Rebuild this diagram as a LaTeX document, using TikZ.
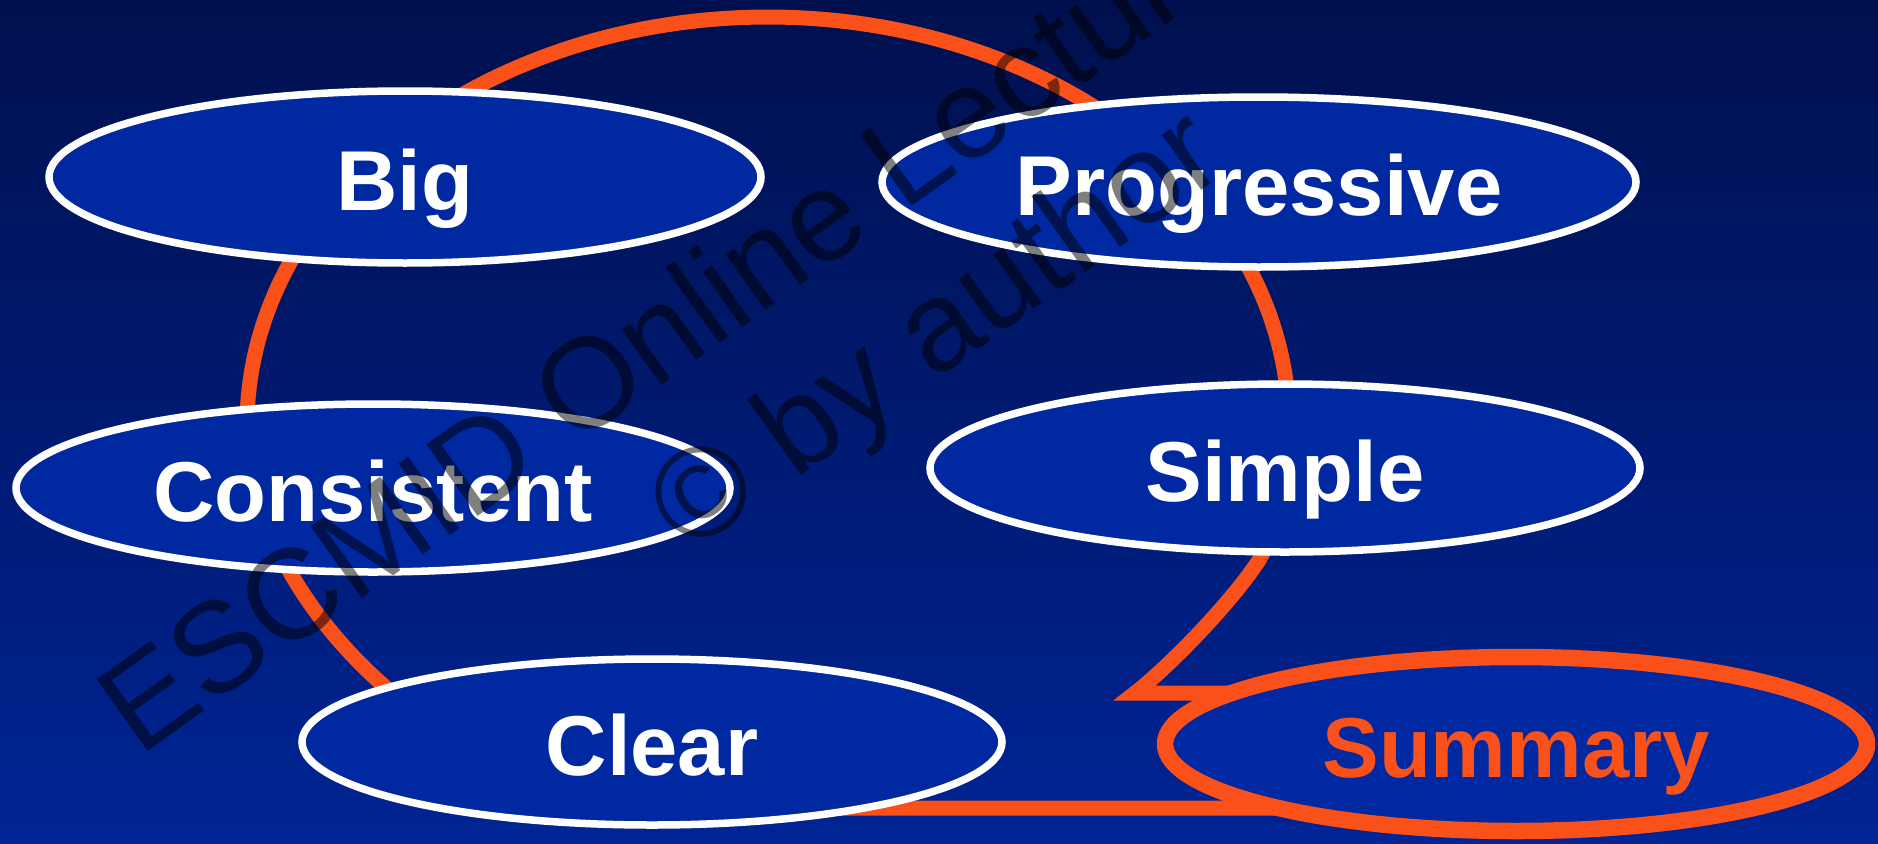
\documentclass[tikz,border=0pt]{standalone}
\usepackage{fontspec}
\setmainfont{Liberation Sans}
\usetikzlibrary{shapes.geometric}
\definecolor{bgtop}{RGB}{0,16,78}
\definecolor{bgbot}{RGB}{0,36,148}
\definecolor{ovalfill}{RGB}{0,40,160}
\definecolor{orng}{RGB}{250,80,25}
\begin{document}
\begin{tikzpicture}[x=1pt,y=-1pt,
  oval/.style={ellipse, draw=white, line width=7.5pt, fill=ovalfill, inner sep=0pt,
    text=white, font=\fontsize{85}{100}\selectfont\bfseries, text height=67pt, text depth=0pt},
  sumoval/.style={oval, draw=orng, line width=16.5pt, text=orng},
  bubble/.style={draw=orng, line width=15pt, line join=miter},
  wm/.style={font=\fontsize{128}{150}\selectfont, text=black, text opacity=0.5,
    rotate=35.5, anchor=base, inner sep=0pt}]
\useasboundingbox (0,0) rectangle (1878,843);
\clip (0,0) rectangle (1878,843);
\fill[top color=bgtop, bottom color=bgbot] (0,0) rectangle (1878,843);
% orange callout outline
\draw[bubble] (1320,693) -- (1135,693)
  .. controls (1165,670) and (1232,603) .. (1261,557)
  -- plot[domain=18.9:-180,samples=150] ({768+521*cos(\x)},{425+408*sin(\x)})
  .. controls (247,600) and (450,808) .. (700,808) -- (1320,808) -- cycle;
% ovals
\node[oval, minimum width=712pt, minimum height=172pt] (big) at (405,177) {Big};
\node[oval, minimum width=754pt, minimum height=170pt] (prog) at (1259,182) {Progressive};
\node[oval, minimum width=714pt, minimum height=168pt] (cons) at (373,488) {Consistent};
\node[oval, minimum width=710pt, minimum height=168pt] (simp) at (1285,468) {Simple};
\node[oval, minimum width=700pt, minimum height=166pt] (clear) at (652,742) {Clear};
\node[sumoval, minimum width=702pt, minimum height=174pt] (summ) at (1516,744) {Summary};
% watermark
\node[wm] (wm1) at (869,237) {ESCMID Online Lecture Library};
\node[wm] (wm2) at (959,363) {\textcopyright{} by author};
\end{tikzpicture}
\end{document}
